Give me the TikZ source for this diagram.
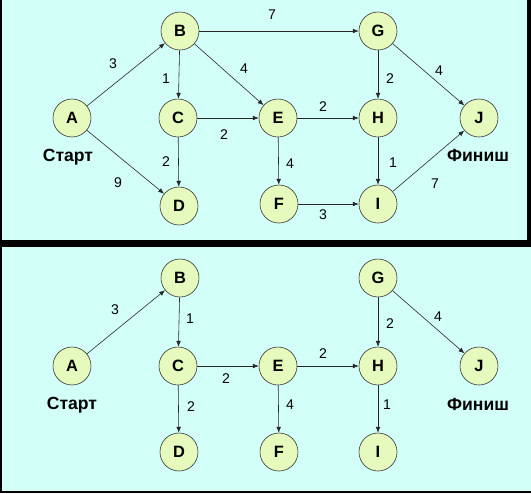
\documentclass[tikz,border=0pt]{standalone}
\usepackage{fontspec}
\setmainfont{Liberation Sans}
\usetikzlibrary{arrows.meta}

\definecolor{panelbg}{RGB}{210,255,248}
\definecolor{nodefill}{RGB}{230,250,190}

\tikzset{
  vertex/.style={circle, draw=black!80, line width=0.5pt, fill=nodefill,
    minimum size=1.14cm, inner sep=0pt, font=\fontsize{14}{14}\selectfont\bfseries},
  weight/.style={font=\fontsize{12}{12}\selectfont, inner sep=1pt},
  caption/.style={font=\fontsize{15}{15}\selectfont\bfseries, inner sep=1pt},
  arc/.style={-{Latex[length=5pt,width=4pt]}, line width=0.5pt, black!85}
}

\begin{document}
\begin{tikzpicture}[x=0.03cm, y=-0.03cm]
        % black frame and two panels
        \fill[black] (0,0) rectangle (531,493);
        \useasboundingbox (0,0) rectangle (531,493);
        \fill[panelbg] (2,0) rectangle (527,240);
        \fill[panelbg] (2,247) rectangle (531,491);

        % top panel: vertices
        \foreach \n/\x/\y in {A/72/118, B/180/31, C/178/118, D/179/206, E/278/118,
                              F/279/204, G/378/31, H/378/118, I/378/204, J/479/118}
        \node[vertex] (t\n) at (\x,\y) {\n};
        % start / finish
        \node[caption] (tstart) at (68,157) {Старт};
        \node[caption] (tfinish) at (478,155) {Финиш};
        % arcs
        \draw[arc] (tA) -- (tB);
        \draw[arc] (tA) -- (tD);
        \draw[arc] (tB) -- (tC);
        \draw[arc] (tB) -- (tE);
        \draw[arc] (tB) -- (tG);
        \draw[arc] (tC) -- (tD);
        \draw[arc] (tC) -- (tE);
        \draw[arc] (tE) -- (tH);
        \draw[arc] (tE) -- (tF);
        \draw[arc] (tF) -- (tI);
        \draw[arc] (tG) -- (tH);
        \draw[arc] (tG) -- (tJ);
        \draw[arc] (tH) -- (tI);
        \draw[arc] (tI) -- (tJ);
        % weights
        \node[weight] (tw1) at (113,64) {3};
        \node[weight] (tw2) at (118,183) {9};
        \node[weight] (tw3) at (166,79) {1};
        \node[weight] (tw4) at (244,69) {4};
        \node[weight] (tw5) at (272,15) {7};
        \node[weight] (tw6) at (166,162) {2};
        \node[weight] (tw7) at (224,135) {2};
        \node[weight] (tw8) at (323,107) {2};
        \node[weight] (tw9) at (290,164) {4};
        \node[weight] (tw10) at (323,215) {3};
        \node[weight] (tw11) at (390,79) {2};
        \node[weight] (tw12) at (439,71) {4};
        \node[weight] (tw13) at (393,163) {1};
        \node[weight] (tw14) at (435,184) {7};

        % bottom panel: vertices
        \foreach \n/\x/\y in {A/72/366, B/180/278, C/178/366, D/179/452, E/278/366,
                              F/279/452, G/378/278, H/378/366, I/378/452, J/479/366}
        \node[vertex] (b\n) at (\x,\y) {\n};
        % start / finish
        \node[caption] (bstart) at (72,405) {Старт};
        \node[caption] (bfinish) at (478,404) {Финиш};
        % arcs
        \draw[arc] (bA) -- (bB);
        \draw[arc] (bB) -- (bC);
        \draw[arc] (bC) -- (bD);
        \draw[arc] (bC) -- (bE);
        \draw[arc] (bE) -- (bH);
        \draw[arc] (bE) -- (bF);
        \draw[arc] (bG) -- (bH);
        \draw[arc] (bG) -- (bJ);
        \draw[arc] (bH) -- (bI);
        % weights
        \node[weight] (bw1) at (115,310) {3};
        \node[weight] (bw2) at (190,319) {1};
        \node[weight] (bw3) at (191,407) {2};
        \node[weight] (bw4) at (226,379) {2};
        \node[weight] (bw5) at (323,354) {2};
        \node[weight] (bw6) at (290,405) {4};
        \node[weight] (bw7) at (390,324) {2};
        \node[weight] (bw8) at (438,317) {4};
        \node[weight] (bw9) at (387,405) {1};
\end{tikzpicture}
\end{document}
